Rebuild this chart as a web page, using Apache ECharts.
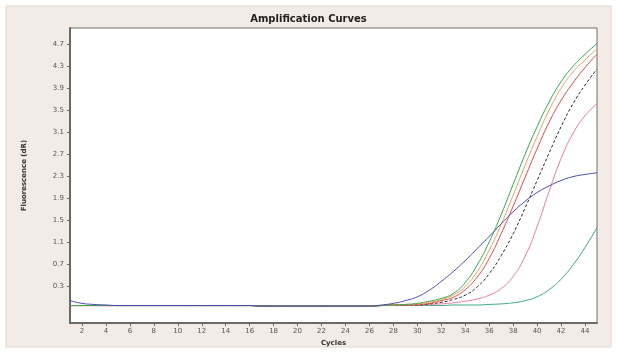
<!DOCTYPE html>
<html>
<head>
<meta charset="utf-8">
<script src="https://cdn.jsdelivr.net/npm/echarts@6/dist/echarts.min.js"></script>
<style>
  html, body { margin: 0; padding: 0; background: #ffffff; }
  #chart { width: 617px; height: 352px; }
</style>
</head>
<body>
<div id="chart"></div>
<script>
const cycles = [1, 2, 3, 4, 5, 6, 7, 8, 9, 10, 11, 12, 13, 14, 15, 16, 17, 18, 19, 20, 21, 22, 23, 24, 25, 26, 27, 28, 29, 30, 31, 32, 33, 34, 35, 36, 37, 38, 39, 40, 41, 42, 43, 44, 45]
const xTicks = [2, 4, 6, 8, 10, 12, 14, 16, 18, 20, 22, 24, 26, 28, 30, 32, 34, 36, 38, 40, 42, 44]
const yTicks = [0.3, 0.7, 1.1, 1.5, 1.9, 2.3, 2.7, 3.1, 3.5, 3.9, 4.3, 4.7]

const greenValues = [-0.06, -0.06, -0.06, -0.06, -0.06, -0.06, -0.06, -0.06, -0.06, -0.06, -0.06, -0.06, -0.06, -0.06, -0.06, -0.06, -0.07, -0.07, -0.07, -0.07, -0.07, -0.07, -0.07, -0.07, -0.07, -0.07, -0.06, -0.05, -0.04, -0.02, 0.02, 0.07, 0.16, 0.36, 0.68, 1.1, 1.6, 2.15, 2.7, 3.2, 3.65, 4.02, 4.3, 4.52, 4.72]
const orangeValues = [-0.06, -0.06, -0.06, -0.06, -0.06, -0.06, -0.06, -0.06, -0.06, -0.06, -0.06, -0.06, -0.06, -0.06, -0.06, -0.06, -0.07, -0.07, -0.07, -0.07, -0.07, -0.07, -0.07, -0.07, -0.07, -0.07, -0.06, -0.05, -0.04, -0.03, 0.0, 0.05, 0.13, 0.29, 0.56, 0.95, 1.42, 1.95, 2.5, 3.02, 3.5, 3.9, 4.2, 4.42, 4.62]
const redValues = [-0.06, -0.06, -0.06, -0.06, -0.06, -0.06, -0.06, -0.06, -0.06, -0.06, -0.06, -0.06, -0.06, -0.06, -0.06, -0.06, -0.07, -0.07, -0.07, -0.07, -0.07, -0.07, -0.07, -0.07, -0.07, -0.07, -0.06, -0.05, -0.05, -0.04, -0.02, 0.03, 0.09, 0.23, 0.46, 0.8, 1.25, 1.75, 2.28, 2.8, 3.28, 3.68, 4.0, 4.28, 4.52]
const blackValues = [-0.06, -0.06, -0.06, -0.06, -0.06, -0.06, -0.06, -0.06, -0.06, -0.06, -0.06, -0.06, -0.06, -0.06, -0.06, -0.06, -0.07, -0.07, -0.07, -0.07, -0.07, -0.07, -0.07, -0.07, -0.07, -0.07, -0.06, -0.05, -0.05, -0.05, -0.03, 0.0, 0.05, 0.13, 0.28, 0.52, 0.85, 1.25, 1.72, 2.22, 2.72, 3.2, 3.62, 3.96, 4.25]
const pinkValues = [-0.06, -0.06, -0.06, -0.06, -0.06, -0.06, -0.06, -0.06, -0.06, -0.06, -0.06, -0.06, -0.06, -0.06, -0.06, -0.06, -0.07, -0.07, -0.07, -0.07, -0.07, -0.07, -0.07, -0.07, -0.07, -0.07, -0.06, -0.05, -0.05, -0.05, -0.04, -0.03, -0.01, 0.02, 0.06, 0.13, 0.25, 0.47, 0.84, 1.38, 2.02, 2.62, 3.08, 3.4, 3.62]
const tealValues = [-0.06, -0.06, -0.06, -0.06, -0.06, -0.06, -0.06, -0.06, -0.06, -0.06, -0.06, -0.06, -0.06, -0.06, -0.06, -0.06, -0.07, -0.07, -0.07, -0.07, -0.07, -0.07, -0.07, -0.07, -0.07, -0.07, -0.06, -0.06, -0.06, -0.06, -0.06, -0.06, -0.05, -0.05, -0.05, -0.04, -0.03, -0.01, 0.03, 0.1, 0.23, 0.42, 0.68, 1.0, 1.36]
const blueValues = [0.03, -0.02, -0.04, -0.05, -0.06, -0.06, -0.06, -0.06, -0.06, -0.06, -0.06, -0.06, -0.06, -0.06, -0.06, -0.06, -0.07, -0.07, -0.07, -0.07, -0.07, -0.07, -0.07, -0.07, -0.07, -0.07, -0.05, -0.02, 0.03, 0.1, 0.22, 0.38, 0.56, 0.76, 0.98, 1.2, 1.43, 1.65, 1.84, 2.0, 2.12, 2.22, 2.29, 2.33, 2.36]

const curves = [
  { name: 'Teal', values: tealValues, color: '#3aa88a', type: 'solid' },
  { name: 'Pink', values: pinkValues, color: '#f07c98', type: 'solid' },
  { name: 'Black', values: blackValues, color: '#2a2a2a', type: [3, 2] },
  { name: 'Red', values: redValues, color: '#e84848', type: 'solid' },
  { name: 'Orange', values: orangeValues, color: '#f0a060', type: 'solid' },
  { name: 'Green', values: greenValues, color: '#36a852', type: 'solid' },
  { name: 'Blue', values: blueValues, color: '#4848b0', type: 'solid' },
]

const chart = echarts.init(document.getElementById('chart'))

const option = {
  backgroundColor: '#ffffff',
  animation: false,
  graphic: [
    {
      type: 'rect',
      z: -10,
      shape: { x: 6, y: 6, width: 605, height: 341 },
      style: { fill: '#f3ebe6', stroke: '#e2d6d0', lineWidth: 1 },
    },
  ],
  title: {
    text: 'Amplification Curves',
    left: 'center',
    top: 9,
    textStyle: {
      fontFamily: 'DejaVu Sans',
      fontSize: 10,
      fontWeight: 'bold',
      color: '#222',
    },
  },
  grid: {
    left: 70,
    right: 20,
    top: 28,
    bottom: 25,
    show: true,
    backgroundColor: '#ffffff',
    borderColor: '#6f6f6f',
    borderWidth: 1,
  },
  xAxis: {
    type: 'value',
    min: 1,
    max: 45,
    name: 'Cycles',
    nameLocation: 'middle',
    nameGap: 15,
    nameTextStyle: {
      fontFamily: 'DejaVu Sans',
      fontSize: 7,
      fontWeight: 'bold',
      color: '#333',
    },
    axisLine: { show: true, onZero: false, lineStyle: { color: '#6a6a6a', width: 2 } },
    axisTick: {
      show: true,
      customValues: xTicks,
      length: 3,
      lineStyle: { color: '#666' },
    },
    axisLabel: {
      customValues: xTicks,
      fontFamily: 'DejaVu Sans',
      fontSize: 7,
      color: '#555',
      margin: 5,
    },
    splitLine: { show: false },
  },
  yAxis: {
    type: 'value',
    min: -0.38,
    max: 5.0,
    name: 'Fluorescence (dR)',
    nameLocation: 'middle',
    nameGap: 42,
    nameRotate: 90,
    nameTextStyle: {
      fontFamily: 'DejaVu Sans',
      fontSize: 7,
      fontWeight: 'bold',
      color: '#333',
    },
    axisLine: { show: true, onZero: false, lineStyle: { color: '#6a6a6a', width: 2 } },
    axisTick: {
      show: true,
      customValues: yTicks,
      length: 3,
      lineStyle: { color: '#666' },
    },
    axisLabel: {
      customValues: yTicks,
      formatter: (value) => Number(value).toFixed(1),
      fontFamily: 'DejaVu Sans',
      fontSize: 7,
      color: '#555',
      margin: 6,
    },
    splitLine: { show: false },
  },
  series: curves.map((curve) => ({
    name: curve.name,
    type: 'line',
    data: cycles.map((c, i) => [c, curve.values[i]]),
    smooth: true,
    showSymbol: false,
    lineStyle: { color: curve.color, width: 1, type: curve.type },
    itemStyle: { color: curve.color },
  })),
}

chart.setOption(option)
</script>
</body>
</html>
